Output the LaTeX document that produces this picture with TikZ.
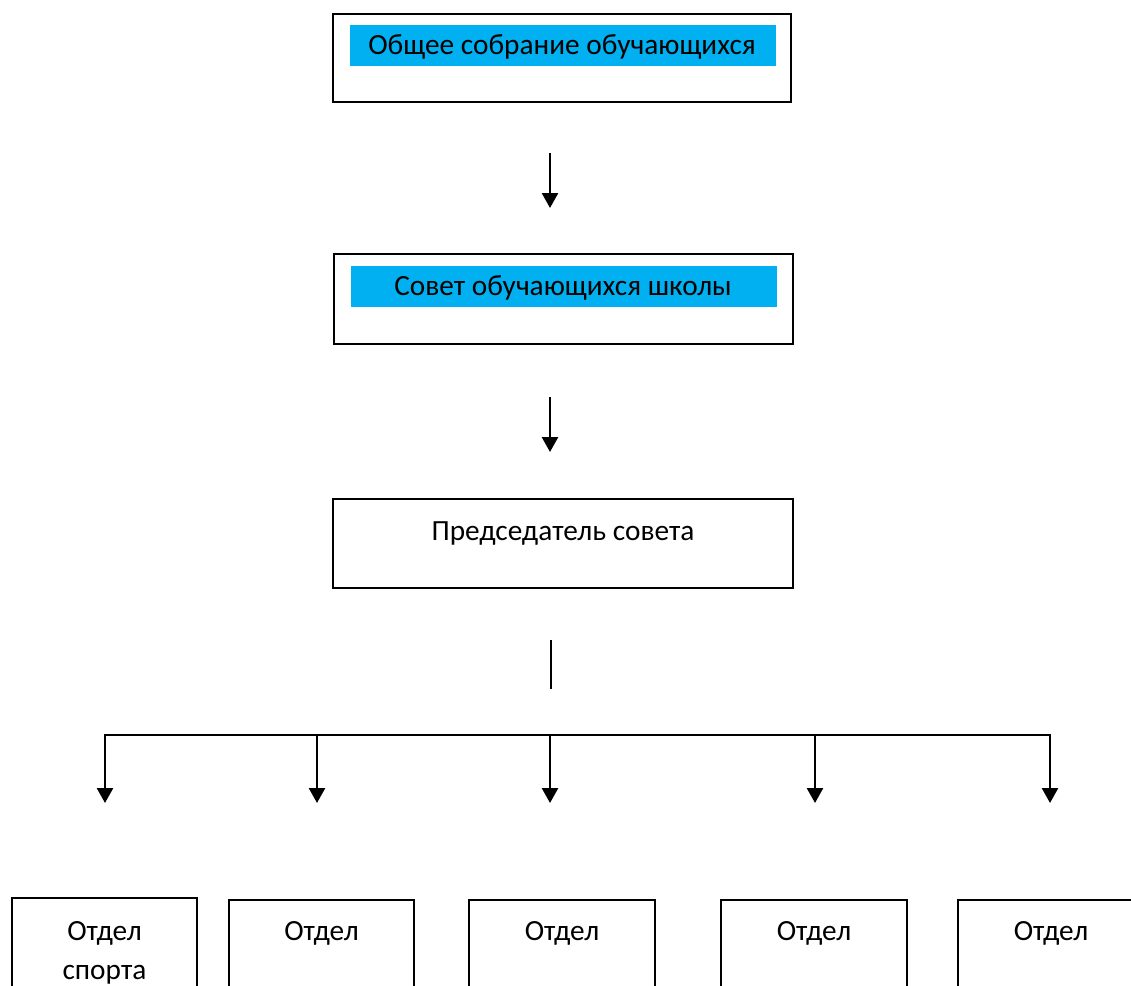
\documentclass[tikz,border=0pt]{standalone}
\usepackage{fontspec}
\setmainfont{Carlito}
\usetikzlibrary{arrows.meta}
\begin{document}
\begin{tikzpicture}[x=1pt,y=-1pt,
  bigbox/.style={draw,line width=2pt,anchor=north west,inner sep=0pt,outer sep=0pt},
  lowbox/.style={draw,line width=1.5pt,anchor=north west,inner sep=0pt,outer sep=0pt,minimum height=140pt},
  hl/.style={fill=hlblue,anchor=north west,inner sep=0pt,outer sep=0pt,minimum width=426pt,minimum height=41pt},
  lbl/.style={inner sep=0pt,anchor=base,font=\fontsize{29.3}{35}\selectfont},
  conn/.style={line width=2.6pt},
  arr/.style={line width=2.6pt,-{Triangle[width=16pt,length=15pt]}}]
\definecolor{hlblue}{HTML}{00B0F0}
\useasboundingbox (0,0) rectangle (1131,985);
\clip (0,0) rectangle (1131,985);
\fill[white] (0,0) rectangle (1131,985);
% top box
\node[bigbox,minimum width=458pt,minimum height=88pt] (b1) at (333,14) {};
\node[hl] (h1bg) at (350,25) {};
\node[lbl] (t1) at (562,54) {Общее собрание обучающихся};
% second box
\node[bigbox,minimum width=459pt,minimum height=90pt] (b2) at (333.5,254) {};
\node[hl] (h2bg) at (351,266) {};
\node[lbl] (t2) at (563,295) {Совет обучающихся школы};
% third box
\node[bigbox,minimum width=460pt,minimum height=89pt] (b3) at (333,499) {};
\node[lbl] (t3) at (563,540) {Председатель совета};
% arrows between top boxes
\coordinate (a1s) at (550,153);
\coordinate (a1e) at (550,208);
\draw[arr] (a1s) -- (a1e);
\coordinate (a2s) at (550,397);
\coordinate (a2e) at (550,452);
\draw[arr] (a2s) -- (a2e);
% chairman stub
\coordinate (s1) at (551,640);
\coordinate (s2) at (551,689);
\draw[line width=1.8pt] (s1) -- (s2);
% bar
\coordinate (h0) at (105,735);
\coordinate (h1) at (317,735);
\coordinate (h2) at (550,735);
\coordinate (h3) at (815,735);
\coordinate (h4) at (1050,735);
\draw[conn] ([xshift=-1.3pt]h0) -- ([xshift=1.3pt]h4);
\coordinate (e0) at (105,803);
\coordinate (e1) at (317,803);
\coordinate (e2) at (550,803);
\coordinate (e3) at (815,803);
\coordinate (e4) at (1050,803);
\foreach \i in {0,...,4} {\draw[arr] (h\i) -- (e\i);}
% bottom boxes
\node[lowbox,minimum width=185pt] (d1) at (12,898) {};
\node[lowbox,minimum width=185pt] (d2) at (229,900) {};
\node[lowbox,minimum width=186pt] (d3) at (469,900) {};
\node[lowbox,minimum width=186pt] (d4) at (721,900) {};
\node[lowbox,minimum width=200pt] (d5) at (958,900) {};
\node[lbl] (d1a) at (104.5,940) {Отдел};
\node[lbl] (d1b) at (104.5,979) {спорта};
\node[lbl] (d2a) at (321.5,940) {Отдел};
\node[lbl] (d3a) at (562,940) {Отдел};
\node[lbl] (d4a) at (814,940) {Отдел};
\node[lbl] (d5a) at (1051,940) {Отдел};
\end{tikzpicture}
\end{document}
